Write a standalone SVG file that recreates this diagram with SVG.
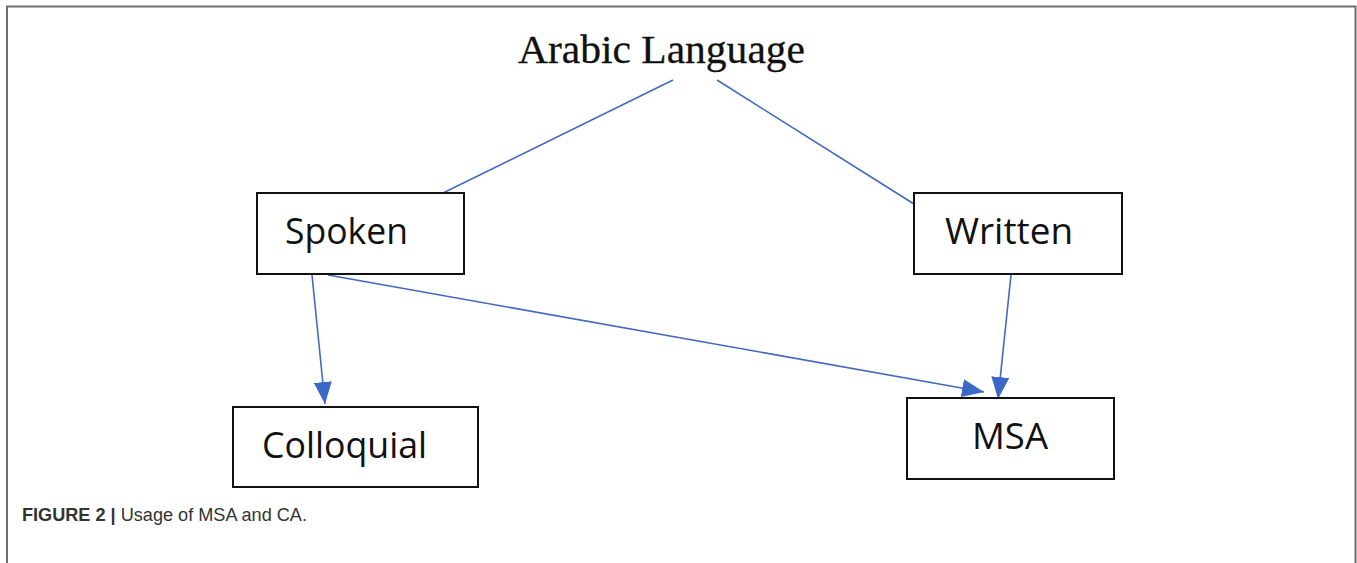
<svg xmlns="http://www.w3.org/2000/svg" width="1357" height="563" viewBox="0 0 1357 563">
<defs>
<style>
.box{fill:#fff;stroke:#111;stroke-width:2}
.lbl{font-family:"Open Sans","Noto Sans",sans-serif;font-size:37px;fill:#111}
.conn{stroke:#4169c0;stroke-width:1.6;fill:none}
.frame{stroke:#6e6e6e;stroke-width:2;fill:none}
</style>
<marker id="ah" viewBox="0 0 22 18" refX="22" refY="9" markerUnits="userSpaceOnUse" markerWidth="22" markerHeight="18" orient="auto">
<path d="M0,0 L22,9 L0,18 Z" fill="#3b67c6"/>
</marker>
</defs>
<rect width="1357" height="563" fill="#fff"/>
<path class="frame" d="M7,563 L7,6.5 L1355.5,6.5 L1355.5,563"/>
<g id="connectors">
<line class="conn" x1="673" y1="80" x2="443" y2="193"/>
<line class="conn" x1="717" y1="80" x2="914" y2="204"/>
<line class="conn" x1="312" y1="275" x2="325" y2="404" marker-end="url(#ah)"/>
<line class="conn" x1="328" y1="275" x2="984" y2="392" marker-end="url(#ah)"/>
<line class="conn" x1="1011" y1="275" x2="998" y2="399" marker-end="url(#ah)"/>
</g>
<g id="node-arabic">
<text x="518" y="63" font-family="'Liberation Serif','Times New Roman',serif" font-size="39" fill="#111" stroke="#111" stroke-width="0.3" textLength="287" lengthAdjust="spacingAndGlyphs">Arabic Language</text>
</g>
<g id="node-spoken">
<rect class="box" x="257" y="193" width="207" height="81"/>
<text class="lbl" x="285" y="244" textLength="123" lengthAdjust="spacingAndGlyphs">Spoken</text>
</g>
<g id="node-written">
<rect class="box" x="914" y="193" width="208" height="81"/>
<text class="lbl" x="945" y="244" textLength="128" lengthAdjust="spacingAndGlyphs">Written</text>
</g>
<g id="node-colloquial">
<rect class="box" x="233" y="407" width="245" height="80"/>
<text class="lbl" x="262" y="458" textLength="165" lengthAdjust="spacingAndGlyphs">Colloquial</text>
</g>
<g id="node-msa">
<rect class="box" x="907" y="398" width="207" height="81"/>
<text class="lbl" x="972" y="449" textLength="76" lengthAdjust="spacingAndGlyphs">MSA</text>
</g>
<g id="caption">
<text x="22" y="521" font-family="'Liberation Sans',Arial,sans-serif" font-size="18" fill="#333" textLength="285" lengthAdjust="spacingAndGlyphs"><tspan font-weight="bold">FIGURE 2 |</tspan> Usage of MSA and CA.</text>
</g>
</svg>
